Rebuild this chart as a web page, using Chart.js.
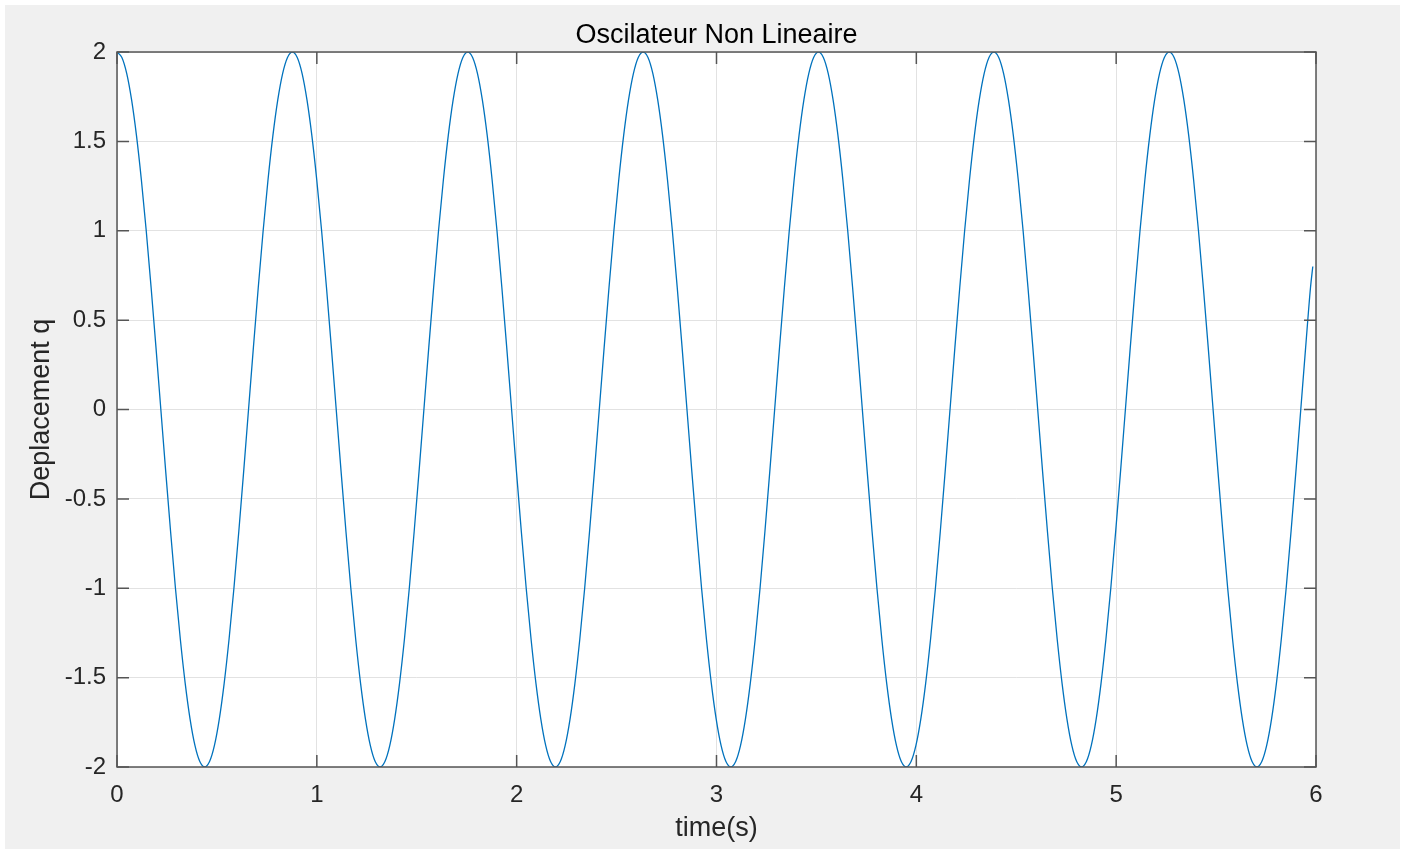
<!DOCTYPE html>
<html>
<head>
<meta charset="utf-8">
<script src="https://cdn.jsdelivr.net/npm/chart.js@4.4.1/dist/chart.umd.min.js"></script>
<style>
  html, body { margin: 0; padding: 0; background: #ffffff; }
  #bg { position: absolute; left: 5px; top: 5px; width: 1395px; height: 844px; background: #f0f0f0; }
  #c { position: absolute; left: 0; top: 0; }
</style>
</head>
<body>
<div id="bg"></div>
<canvas id="c" width="1405" height="849"></canvas>
<script>
// ---- Data ----
const chartTitle = "Oscilateur Non Lineaire";
const xAxisLabel = "time(s)";
const yAxisLabel = "Deplacement q";
const xTickValues = [0, 1, 2, 3, 4, 5, 6];
const yTickValues = [-2, -1.5, -1, -0.5, 0, 0.5, 1, 1.5, 2];

const timeS = [
  0.0000, 0.0244, 0.0488, 0.0731, 0.0975, 0.1219, 0.1463, 0.1706, 0.1950, 0.2194, 0.2438, 0.2682, 0.2925, 0.3169, 0.3413, 0.3657, 0.3900, 0.4144, 0.4388, 0.4632, 0.4876, 0.5119, 0.5363, 0.5607, 0.5851, 0.6094, 0.6338, 0.6582, 0.6826, 0.7070, 0.7313, 0.7557, 0.7801, 0.8045, 0.8288, 0.8532,
  0.8776, 0.9020, 0.9264, 0.9507, 0.9751, 0.9995, 1.0239, 1.0482, 1.0726, 1.0970, 1.1214, 1.1458, 1.1701, 1.1945, 1.2189, 1.2433, 1.2676, 1.2920, 1.3164, 1.3408, 1.3652, 1.3895, 1.4139, 1.4383, 1.4627, 1.4870, 1.5114, 1.5358, 1.5602, 1.5846, 1.6089, 1.6333, 1.6577, 1.6821, 1.7065, 1.7308,
  1.7552, 1.7796, 1.8040, 1.8283, 1.8527, 1.8771, 1.9015, 1.9258, 1.9502, 1.9746, 1.9990, 2.0234, 2.0477, 2.0721, 2.0965, 2.1209, 2.1452, 2.1696, 2.1940, 2.2184, 2.2428, 2.2671, 2.2915, 2.3159, 2.3403, 2.3646, 2.3890, 2.4134, 2.4378, 2.4622, 2.4865, 2.5109, 2.5353, 2.5597, 2.5841, 2.6084,
  2.6328, 2.6572, 2.6816, 2.7059, 2.7303, 2.7547, 2.7791, 2.8034, 2.8278, 2.8522, 2.8766, 2.9010, 2.9253, 2.9497, 2.9741, 2.9985, 3.0228, 3.0472, 3.0716, 3.0960, 3.1204, 3.1447, 3.1691, 3.1935, 3.2179, 3.2422, 3.2666, 3.2910, 3.3154, 3.3398, 3.3641, 3.3885, 3.4129, 3.4373, 3.4617, 3.4860,
  3.5104, 3.5348, 3.5592, 3.5835, 3.6079, 3.6323, 3.6567, 3.6810, 3.7054, 3.7298, 3.7542, 3.7786, 3.8029, 3.8273, 3.8517, 3.8761, 3.9004, 3.9248, 3.9492, 3.9736, 3.9980, 4.0223, 4.0467, 4.0711, 4.0955, 4.1198, 4.1442, 4.1686, 4.1930, 4.2174, 4.2417, 4.2661, 4.2905, 4.3149, 4.3393, 4.3636,
  4.3880, 4.4124, 4.4368, 4.4611, 4.4855, 4.5099, 4.5343, 4.5586, 4.5830, 4.6074, 4.6318, 4.6562, 4.6805, 4.7049, 4.7293, 4.7537, 4.7780, 4.8024, 4.8268, 4.8512, 4.8756, 4.8999, 4.9243, 4.9487, 4.9731, 4.9974, 5.0218, 5.0462, 5.0706, 5.0950, 5.1193, 5.1437, 5.1681, 5.1925, 5.2169, 5.2412,
  5.2656, 5.2900, 5.3144, 5.3387, 5.3631, 5.3875, 5.4119, 5.4362, 5.4606, 5.4850, 5.5094, 5.5338, 5.5581, 5.5825, 5.6069, 5.6313, 5.6556, 5.6800, 5.7044, 5.7288, 5.7532, 5.7775, 5.8019, 5.8263, 5.8507, 5.8750, 5.8994, 5.9238, 5.9482, 5.9726,
  5.9840
];

const displacementQ = [
  2, 1.9696, 1.8794, 1.7321, 1.5321, 1.2856, 1, 0.684, 0.3473, 0, -0.3473, -0.684, -1, -1.2856, -1.5321, -1.7321, -1.8794, -1.9696, -2, -1.9696, -1.8794, -1.7321, -1.5321, -1.2856, -1, -0.684, -0.3473, 0, 0.3473, 0.684, 1, 1.2856, 1.5321, 1.7321, 1.8794, 1.9696,
  2, 1.9696, 1.8794, 1.7321, 1.5321, 1.2856, 1, 0.684, 0.3473, 0, -0.3473, -0.684, -1, -1.2856, -1.5321, -1.7321, -1.8794, -1.9696, -2, -1.9696, -1.8794, -1.7321, -1.5321, -1.2856, -1, -0.684, -0.3473, 0, 0.3473, 0.684, 1, 1.2856, 1.5321, 1.7321, 1.8794, 1.9696,
  2, 1.9696, 1.8794, 1.7321, 1.5321, 1.2856, 1, 0.684, 0.3473, 0, -0.3473, -0.684, -1, -1.2856, -1.5321, -1.7321, -1.8794, -1.9696, -2, -1.9696, -1.8794, -1.7321, -1.5321, -1.2856, -1, -0.684, -0.3473, 0, 0.3473, 0.684, 1, 1.2856, 1.5321, 1.7321, 1.8794, 1.9696,
  2, 1.9696, 1.8794, 1.7321, 1.5321, 1.2856, 1, 0.684, 0.3473, 0, -0.3473, -0.684, -1, -1.2856, -1.5321, -1.7321, -1.8794, -1.9696, -2, -1.9696, -1.8794, -1.7321, -1.5321, -1.2856, -1, -0.684, -0.3473, 0, 0.3473, 0.684, 1, 1.2856, 1.5321, 1.7321, 1.8794, 1.9696,
  2, 1.9696, 1.8794, 1.7321, 1.5321, 1.2856, 1, 0.684, 0.3473, 0, -0.3473, -0.684, -1, -1.2856, -1.5321, -1.7321, -1.8794, -1.9696, -2, -1.9696, -1.8794, -1.7321, -1.5321, -1.2856, -1, -0.684, -0.3473, 0, 0.3473, 0.684, 1, 1.2856, 1.5321, 1.7321, 1.8794, 1.9696,
  2, 1.9696, 1.8794, 1.7321, 1.5321, 1.2856, 1, 0.684, 0.3473, 0, -0.3473, -0.684, -1, -1.2856, -1.5321, -1.7321, -1.8794, -1.9696, -2, -1.9696, -1.8794, -1.7321, -1.5321, -1.2856, -1, -0.684, -0.3473, 0, 0.3473, 0.684, 1, 1.2856, 1.5321, 1.7321, 1.8794, 1.9696,
  2, 1.9696, 1.8794, 1.7321, 1.5321, 1.2856, 1, 0.684, 0.3473, 0, -0.3473, -0.684, -1, -1.2856, -1.5321, -1.7321, -1.8794, -1.9696, -2, -1.9696, -1.8794, -1.7321, -1.5321, -1.2856, -1, -0.684, -0.3473, 0, 0.3473, 0.684,
  0.80
];

// ---- Styling ----
const FONT = "'Liberation Sans', Arial, Helvetica, sans-serif";
const AXIS_COLOR = '#555555';
const TEXT_COLOR = '#262626';
const GRID_COLOR = '#e2e2e2';
const TICK_LEN = 12;

const matlabFrame = {
  id: 'matlabFrame',
  beforeDraw(chart) {
    const { ctx, chartArea: a } = chart;
    ctx.save();
    ctx.fillStyle = '#ffffff';
    ctx.fillRect(a.left, a.top, a.right - a.left, a.bottom - a.top);
    ctx.restore();
  },
  afterDatasetsDraw(chart) {
    const { ctx, chartArea: a, scales } = chart;
    ctx.save();
    ctx.strokeStyle = AXIS_COLOR;
    ctx.lineWidth = 1.5;
    ctx.beginPath();
    xTickValues.forEach(v => {
      const px = scales.x.getPixelForValue(v);
      ctx.moveTo(px, a.bottom); ctx.lineTo(px, a.bottom - TICK_LEN);
      ctx.moveTo(px, a.top); ctx.lineTo(px, a.top + TICK_LEN);
    });
    yTickValues.forEach(v => {
      const py = scales.y.getPixelForValue(v);
      ctx.moveTo(a.left, py); ctx.lineTo(a.left + TICK_LEN, py);
      ctx.moveTo(a.right, py); ctx.lineTo(a.right - TICK_LEN, py);
    });
    ctx.stroke();
    ctx.strokeRect(a.left, a.top, a.right - a.left, a.bottom - a.top);
    // title
    ctx.fillStyle = '#000000';
    ctx.font = '27px ' + FONT;
    ctx.textAlign = 'center';
    ctx.textBaseline = 'alphabetic';
    ctx.fillText(chartTitle, (a.left + a.right) / 2, a.top - 9);
    ctx.restore();
  }
};

const ctx = document.getElementById('c').getContext('2d');
new Chart(ctx, {
  type: 'line',
  data: {
    datasets: [{
      data: timeS.map((t, i) => ({ x: t, y: displacementQ[i] })),
      borderColor: '#0072BD',
      borderWidth: 1.3,
      pointRadius: 0,
      fill: false,
      cubicInterpolationMode: 'monotone'
    }]
  },
  options: {
    responsive: false,
    animation: false,
    devicePixelRatio: 1,
    layout: { padding: { left: 0, top: 52, right: 89, bottom: 0 } },
    plugins: { legend: { display: false }, tooltip: { enabled: false }, title: { display: false } },
    scales: {
      x: {
        type: 'linear',
        min: 0, max: 6,
        afterBuildTicks(scale) { scale.ticks = xTickValues.map(v => ({ value: v })); },
        afterFit(scale) { scale.height = 82; },
        grid: { color: GRID_COLOR, lineWidth: 1, drawTicks: false },
        border: { display: false },
        ticks: {
          color: TEXT_COLOR, padding: 14, maxRotation: 0, autoSkip: false,
          font: { family: FONT, size: 24 },
          callback: v => String(v)
        },
        title: {
          display: true, text: xAxisLabel, color: TEXT_COLOR,
          font: { family: FONT, size: 27, lineHeight: 1.2 },
          padding: { top: 0, bottom: 4 }
        }
      },
      y: {
        type: 'linear',
        min: -2, max: 2,
        afterBuildTicks(scale) { scale.ticks = yTickValues.map(v => ({ value: v })); },
        afterFit(scale) { scale.width = 117; },
        grid: { color: GRID_COLOR, lineWidth: 1, drawTicks: false },
        border: { display: false },
        ticks: {
          color: TEXT_COLOR, padding: 11, autoSkip: false,
          font: { family: FONT, size: 24 },
          callback: v => String(v)
        },
        title: {
          display: true, text: yAxisLabel, color: TEXT_COLOR,
          font: { family: FONT, size: 27, lineHeight: 1.2 },
          padding: { top: 25, bottom: 0 }
        }
      }
    }
  },
  plugins: [matlabFrame]
});
</script>
</body>
</html>
